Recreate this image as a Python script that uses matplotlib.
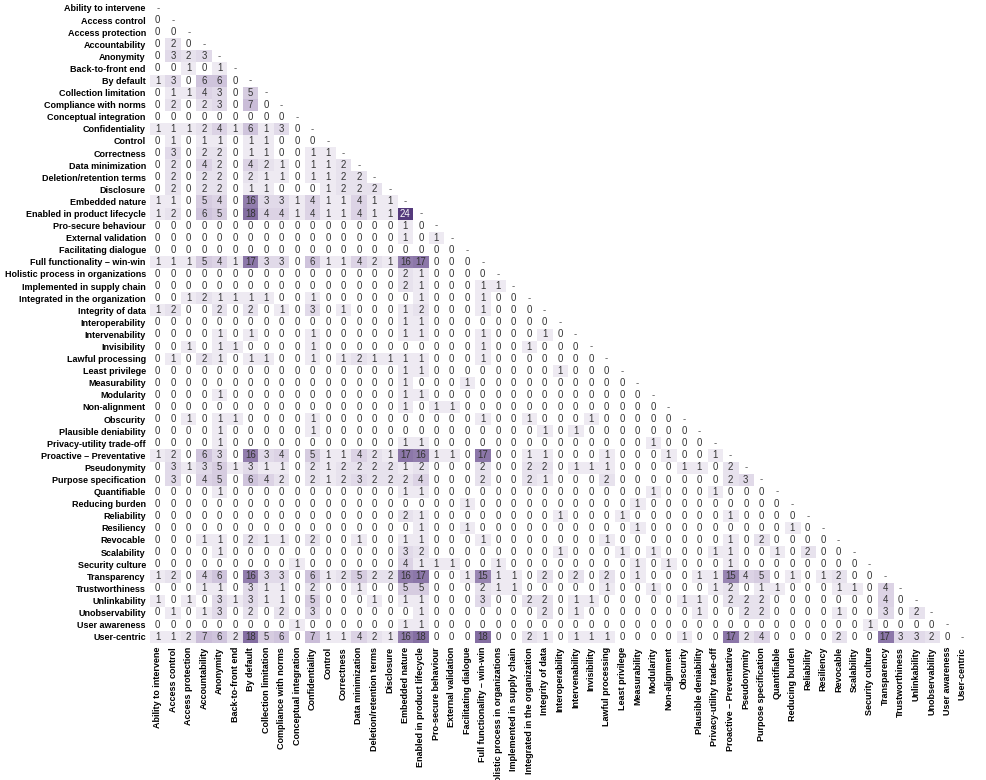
import numpy as np
import matplotlib
matplotlib.use("Agg")
from matplotlib import pyplot as plt
from matplotlib.colors import LinearSegmentedColormap

labels = [
    "Ability to intervene", "Access control", "Access protection", "Accountability",
    "Anonymity", "Back-to-front end", "By default", "Collection limitation",
    "Compliance with norms", "Conceptual integration", "Confidentiality", "Control",
    "Correctness", "Data minimization", "Deletion/retention terms", "Disclosure",
    "Embedded nature", "Enabled in product lifecycle", "Pro-secure behaviour",
    "External validation", "Facilitating dialogue", "Full functionality \u2013 win-win",
    "Holistic process in organizations", "Implemented in supply chain",
    "Integrated in the organization", "Integrity of data", "Interoperability",
    "Intervenability", "Invisibility", "Lawful processing", "Least privilege",
    "Measurability", "Modularity", "Non-alignment", "Obscurity", "Plausible deniability",
    "Privacy-utility trade-off", "Proactive \u2013 Preventative", "Pseudonymity",
    "Purpose specification", "Quantifiable", "Reducing burden", "Reliability",
    "Resiliency", "Revocable", "Scalability", "Security culture", "Transparency",
    "Trustworthiness", "Unlinkability", "Unobservability", "User awareness", "User-centric",
]

# co-occurrence counts, lower triangle: row i holds columns 0..i-1
lower = [
    [],
    [0],
    [0, 0],
    [0, 2, 0],
    [0, 3, 2, 3],
    [0, 0, 1, 0, 1],
    [1, 3, 0, 6, 6, 0],
    [0, 1, 1, 4, 3, 0, 5],
    [0, 2, 0, 2, 3, 0, 7, 0],
    [0, 0, 0, 0, 0, 0, 0, 0, 0],
    [1, 1, 1, 2, 4, 1, 6, 1, 3, 0],
    [0, 1, 0, 1, 1, 0, 1, 1, 0, 0, 0],
    [0, 3, 0, 2, 2, 0, 1, 1, 0, 0, 1, 1],
    [0, 2, 0, 4, 2, 0, 4, 2, 1, 0, 1, 1, 2],
    [0, 2, 0, 2, 2, 0, 2, 1, 1, 0, 1, 1, 2, 2],
    [0, 2, 0, 2, 2, 0, 1, 1, 0, 0, 0, 1, 2, 2, 2],
    [1, 1, 0, 5, 4, 0, 16, 3, 3, 1, 4, 1, 1, 4, 1, 1],
    [1, 2, 0, 6, 5, 0, 18, 4, 4, 1, 4, 1, 1, 4, 1, 1, 24],
    [0] * 16 + [1, 0],
    [0] * 16 + [1, 0, 1],
    [0] * 20,
    [1, 1, 1, 5, 4, 1, 17, 3, 3, 0, 6, 1, 1, 4, 2, 1, 16, 17, 0, 0, 0],
    [0] * 16 + [2, 1, 0, 0, 0, 0],
    [0] * 16 + [2, 1, 0, 0, 0, 1, 1],
    [0, 0, 1, 2, 1, 1, 1, 1, 0, 0, 1, 0, 0, 0, 0, 0, 0, 1, 0, 0, 0, 1, 0, 0],
    [1, 2, 0, 0, 2, 0, 2, 0, 1, 0, 3, 0, 1, 0, 0, 0, 1, 2, 0, 0, 0, 1, 0, 0, 0],
    [0] * 16 + [1, 1] + [0] * 8,
    [0, 0, 0, 0, 1, 0, 1, 0, 0, 0, 1, 0, 0, 0, 0, 0, 1, 1, 0, 0, 0, 1, 0, 0, 0, 1, 0],
    [0, 0, 1, 0, 1, 1, 0, 0, 0, 0, 1, 0, 0, 0, 0, 0, 0, 0, 0, 0, 0, 1, 0, 0, 1, 0, 0, 0],
    [0, 1, 0, 2, 1, 0, 1, 1, 0, 0, 1, 0, 1, 2, 1, 1, 1, 1, 0, 0, 0, 1, 0, 0, 0, 0, 0, 0, 0],
    [0] * 16 + [1, 1] + [0] * 8 + [1, 0, 0, 0],
    [0] * 16 + [1, 0, 0, 0, 1] + [0] * 10,
    [0, 0, 0, 0, 1] + [0] * 11 + [1, 1] + [0] * 14,
    [0] * 16 + [1, 0, 1, 1] + [0] * 13,
    [0, 0, 1, 0, 1, 1, 0, 0, 0, 0, 1, 0, 0] + [0] * 8 + [1, 0, 0, 1] + [0, 0, 0, 1, 0, 0, 0, 0, 0],
    [0, 0, 0, 0, 1, 0, 0, 0, 0, 0, 1] + [0] * 14 + [1, 0, 1] + [0] * 7,
    [0, 0, 0, 0, 1] + [0] * 11 + [1, 1] + [0] * 14 + [1, 0, 0, 0],
    [1, 2, 0, 6, 3, 0, 16, 3, 4, 0, 5, 1, 1, 4, 2, 1, 17, 16, 1, 1, 0, 17, 0, 0, 1, 1,
     0, 0, 0, 1, 0, 0, 0, 1, 0, 0, 1],
    [0, 3, 1, 3, 5, 1, 3, 1, 1, 0, 2, 1, 2, 2, 2, 2, 1, 2, 0, 0, 0, 2, 0, 0, 2, 2,
     0, 1, 1, 1, 0, 0, 0, 0, 1, 1, 0, 2],
    [0, 3, 0, 4, 5, 0, 6, 4, 2, 0, 2, 1, 2, 3, 2, 2, 2, 4, 0, 0, 0, 2, 0, 0, 2, 1,
     0, 0, 0, 2, 0, 0, 0, 0, 0, 0, 0, 2, 3],
    [0, 0, 0, 0, 1] + [0] * 11 + [1, 1] + [0] * 14 + [1, 0, 0, 0, 1, 0, 0, 0],
    [0] * 20 + [1] + [0] * 10 + [1] + [0] * 9,
    [0] * 16 + [2, 1] + [0] * 8 + [1, 0, 0, 0, 1] + [0] * 6 + [1, 0, 0, 0, 0],
    [0] * 17 + [1, 0, 0, 1] + [0] * 10 + [1] + [0] * 9 + [1, 0],
    [0, 0, 0, 1, 1, 0, 2, 1, 1, 0, 2, 0, 0] + [1, 0, 0, 1, 1, 0, 0, 0, 1] + [0] * 7
    + [1] + [0] * 7 + [1, 0, 2, 0, 0, 0, 0],
    [0, 0, 0, 0, 1] + [0] * 11 + [3, 2] + [0] * 8 + [1, 0, 0, 0, 1, 0, 1, 0, 0, 0, 1, 1]
    + [0, 0, 1, 0, 2, 0, 0],
    [0] * 9 + [1] + [0] * 6 + [4, 1, 1, 1, 0, 0, 1] + [0] * 8 + [1, 0, 1, 0, 0, 0, 1] + [0] * 8,
    [1, 2, 0, 4, 6, 0, 16, 3, 3, 0, 6, 1, 2, 5, 2, 2, 16, 17, 0, 0, 1, 15, 1, 1, 0, 2,
     0, 2, 0, 2, 0, 1, 0, 0, 0, 1, 1, 15, 4, 5, 0, 1, 0, 1, 2, 0, 0],
    [0, 0, 0, 1, 1, 0, 3, 1, 1, 0, 2, 0, 0, 1, 0, 0, 5, 5, 0, 0, 0, 2, 1, 1, 0, 0,
     0, 0, 0, 1, 0, 0, 1, 0, 0, 0, 1, 2, 0, 1, 1, 0, 0, 0, 1, 1, 0, 4],
    [1, 0, 1, 0, 3, 1, 3, 1, 1, 0, 5, 0, 0, 0, 1, 0, 1, 1, 0, 0, 0, 3, 0, 0, 2, 2,
     0, 1, 1, 0, 0, 0, 0, 0, 1, 1, 0, 2, 2, 2, 0, 0, 0, 0, 0, 0, 0, 4, 0],
    [0, 1, 0, 1, 3, 0, 2, 0, 2, 0, 3, 0, 0, 0, 0, 0, 0, 1, 0, 0, 0, 0, 0, 0, 0, 2,
     0, 1, 0, 0, 0, 0, 0, 0, 0, 1, 0, 0, 2, 2, 0, 0, 0, 0, 1, 0, 0, 3, 0, 2],
    [0] * 9 + [1] + [0] * 6 + [1, 1] + [0] * 28 + [1, 0, 0, 0, 0],
    [1, 1, 2, 7, 6, 2, 18, 5, 6, 0, 7, 1, 1, 4, 2, 1, 16, 18, 0, 0, 0, 18, 0, 0, 2, 1,
     0, 1, 1, 1, 0, 0, 0, 0, 1, 0, 0, 17, 2, 4, 0, 0, 0, 0, 2, 0, 0, 17, 3, 3, 2, 0],
]

n = len(labels)
mat = np.full((n, n), np.nan)
for i, row in enumerate(lower):
    mat[i, :i] = row

cmap = LinearSegmentedColormap.from_list(
    "pur", [(0, "#ffffff"), (0.04, "#eeeaf2"), (0.3, "#c9bcd7"),
            (0.72, "#8b76a8"), (1.0, "#553a7c")])

plt.rcParams['font.family'] = ['Liberation Sans', 'DejaVu Sans']

fig = plt.figure(figsize=(9.87, 7.8), dpi=100)
ax = fig.add_axes([0.152, 0.176, 0.831, 0.8215])
ax.imshow(np.ma.masked_invalid(mat), cmap=cmap, vmin=0, vmax=24,
          aspect='auto', interpolation='nearest')

for i in range(n):
    for j in range(i + 1):
        if i == j:
            txt, col = "-", "#555555"
        else:
            v = int(mat[i, j])
            txt = str(v)
            col = "white" if v > 20 else "#333333"
        ax.text(j, i, txt, ha='center', va='center', fontsize=6.9, color=col)

ax.set_xticks(range(n))
ax.set_yticks(range(n))
ax.set_xticklabels(labels, rotation=90, fontsize=6.5, fontweight='bold')
ax.set_yticklabels(labels, fontsize=6.5, fontweight='bold')
ax.tick_params(length=0, pad=3)
for s in ax.spines.values():
    s.set_visible(False)

fig.savefig("out.png", dpi=100, facecolor="white")
